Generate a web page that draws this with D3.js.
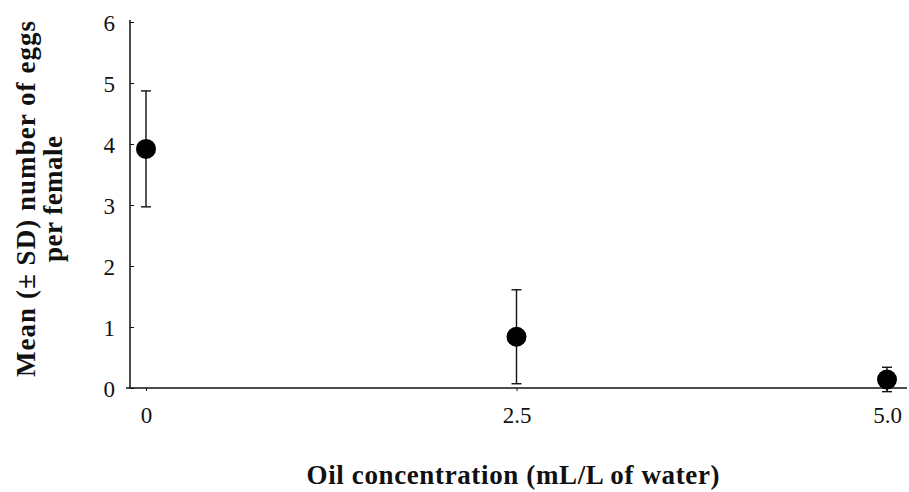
<!DOCTYPE html>
<html>
<head>
<meta charset="utf-8">
<script src="https://cdn.jsdelivr.net/npm/d3@7"></script>
<style>
  body { margin: 0; background: #fff; }
  svg { display: block; }
  text { font-family: "Liberation Serif", "Times New Roman", serif; fill: #111; }
</style>
</head>
<body>
<svg id="chart" width="909" height="492"></svg>
<script>
// data
const concentrations = [0, 2.5, 5.0];
const meanEggs = [3.92, 0.84, 0.14];
const sdEggs = [0.95, 0.77, 0.2];
const xTickLabels = ["0", "2.5", "5.0"];
const yTicks = [0, 1, 2, 3, 4, 5, 6];

const svg = d3.select("#chart");
const margin = { top: 22, right: 2, bottom: 104, left: 130 };
const width = 909 - margin.left - margin.right;
const height = 492 - margin.top - margin.bottom;

const g = svg.append("g")
  .attr("transform", `translate(${margin.left},${margin.top})`);

const x = d3.scaleLinear().domain([0, 5]).range([16, 757]);
const y = d3.scaleLinear().domain([0, 6]).range([height, 0]);

// y axis, ticks point inward
const yAxis = g.append("g")
  .call(d3.axisRight(y).tickValues(yTicks).tickSize(4).tickFormat(d3.format("d")));
yAxis.select(".domain").attr("d", `M0,-2V${height}`).attr("stroke", "#111").attr("stroke-width", 1.5);
yAxis.selectAll(".tick line").attr("stroke", "#111");
yAxis.selectAll(".tick text")
  .attr("x", -15)
  .attr("dy", "0.35em")
  .attr("text-anchor", "end")
  .style("font-size", "23px");

// x axis
const xAxis = g.append("g")
  .attr("transform", `translate(0,${height})`)
  .call(d3.axisBottom(x).tickValues(concentrations).tickSize(3)
    .tickFormat((d, i) => xTickLabels[i]));
xAxis.select(".domain").attr("d", `M-4,0H${width}`).attr("stroke", "#111").attr("stroke-width", 1.5);
xAxis.selectAll(".tick line").attr("stroke", "#111");
xAxis.selectAll(".tick text")
  .attr("y", 35)
  .attr("dy", 0)
  .style("font-size", "23px");

const rows = concentrations.map((c, i) => ({ c, m: meanEggs[i], sd: sdEggs[i] }));

// error bars
const capW = 5;
const eb = g.append("g").attr("stroke", "#111").attr("stroke-width", 1.4);
eb.selectAll(".err")
  .data(rows)
  .join("line")
  .attr("x1", d => x(d.c)).attr("x2", d => x(d.c))
  .attr("y1", d => y(d.m - d.sd)).attr("y2", d => y(d.m + d.sd));
eb.selectAll(".capTop")
  .data(rows)
  .join("line")
  .attr("x1", d => x(d.c) - capW).attr("x2", d => x(d.c) + capW)
  .attr("y1", d => y(d.m + d.sd)).attr("y2", d => y(d.m + d.sd));
eb.selectAll(".capBottom")
  .data(rows)
  .join("line")
  .attr("x1", d => x(d.c) - capW).attr("x2", d => x(d.c) + capW)
  .attr("y1", d => y(d.m - d.sd)).attr("y2", d => y(d.m - d.sd));

// points
g.selectAll(".pt")
  .data(rows)
  .join("circle")
  .attr("cx", d => x(d.c))
  .attr("cy", d => y(d.m))
  .attr("r", 10)
  .attr("fill", "#000");

// axis titles
svg.append("text")
  .attr("x", 513)
  .attr("y", 484)
  .attr("text-anchor", "middle")
  .attr("textLength", 413)
  .style("font-size", "27px")
  .style("font-weight", "bold")
  .text("Oil concentration (mL/L of water)");

const yTitle = svg.append("text")
  .attr("transform", "translate(35,199) rotate(-90)")
  .attr("text-anchor", "middle")
  .style("font-size", "27px")
  .style("font-weight", "bold");
yTitle.append("tspan").attr("x", 0).attr("dy", 0)
  .attr("textLength", 356)
  .text("Mean (± SD) number of eggs");
yTitle.append("tspan").attr("x", 0).attr("dy", 27)
  .attr("textLength", 126)
  .text("per female");
</script>
</body>
</html>
